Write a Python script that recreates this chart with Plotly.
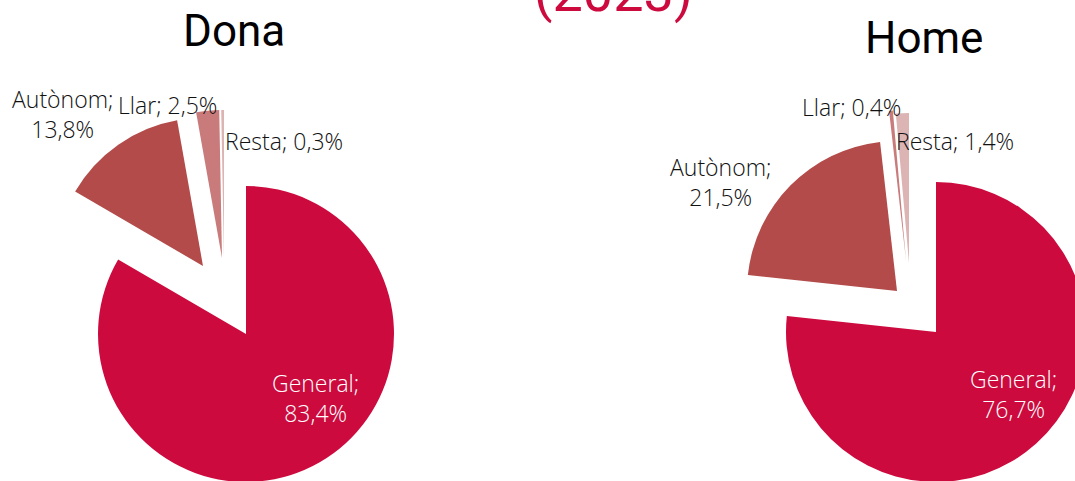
import plotly.graph_objects as go

# Data
categories = ["General", "Autònom", "Llar", "Resta"]
dona_values = [83.4, 13.8, 2.5, 0.3]
home_values = [76.7, 21.5, 0.4, 1.4]
panel_titles = ["Dona", "Home"]
year_label = "(2023)"

slice_colors = ["#CC0A3E", "#B24B49", "#C97B7B", "#DDB4B4"]

# figure a bit larger than the window so the pies get cut at the edges
W, H = 1100, 490


def px(x, y):
    return x / W, 1 - y / H


# pie centre (window px), radius (px) and exploded offset of every slice (px)
pies = [
    dict(values=dona_values, cx=246, cy=334, r=148,
         offsets=[(0, 0), (-43, -68), (-24, -76), (-22, -76)]),
    dict(values=home_values, cx=936, cy=332, r=150,
         offsets=[(0, 0), (-39, -41), (-30, -72), (-27, -69)]),
]

fig = go.Figure()

for p in pies:
    for i, cat in enumerate(categories):
        dx, dy = p["offsets"][i]
        r = p["r"]
        x0, y1 = px(p["cx"] + dx - r, p["cy"] + dy - r)
        x1, y0 = px(p["cx"] + dx + r, p["cy"] + dy + r)
        cols = [c if j == i else "rgba(0,0,0,0)" for j, c in enumerate(slice_colors)]
        fig.add_trace(go.Pie(
            labels=categories,
            values=p["values"],
            sort=False,
            direction="clockwise",
            rotation=0,
            marker=dict(colors=cols, line=dict(width=0)),
            textinfo="none",
            showlegend=False,
            domain=dict(x=[x0, x1], y=[y0, y1]),
        ))


def fmt(cat, val, br):
    sep = "<br>" if br else " "
    return f"{cat};{sep}{val:.1f}".replace(".", ",") + "%"


# label centres (window px), line break, colour
label_pos = [
    [(315, 398, True, "white"), (62, 114, True, "#111"),
     (167, 105, False, "#111"), (284, 141, False, "#111")],
    [(1013, 394, True, "white"), (720, 182, True, "#111"),
     (851, 107, False, "#111"), (955, 141, False, "#111")],
]

for p, pos in zip(pies, label_pos):
    for cat, val, (x, y, br, col) in zip(categories, p["values"], pos):
        ax, ay = px(x, y)
        fig.add_annotation(
            x=ax, y=ay, xref="paper", yref="paper",
            xanchor="center", yanchor="middle",
            text=fmt(cat, val, br), showarrow=False, align="center",
            font=dict(family="Open Sans", size=23, color=col, weight=300),
        )

for t, (x, y) in zip(panel_titles, [(234, 31), (924, 38)]):
    ax, ay = px(x, y)
    fig.add_annotation(
        x=ax, y=ay, xref="paper", yref="paper",
        xanchor="center", yanchor="middle",
        text=t, showarrow=False,
        font=dict(family="Roboto", size=44, color="#000"),
    )

ax, ay = px(613, -8)
fig.add_annotation(
    x=ax, y=ay, xref="paper", yref="paper",
    xanchor="center", yanchor="middle",
    text=year_label, showarrow=False,
    font=dict(family="Roboto", size=54, color="#CC0A3E"),
)

fig.update_layout(
    width=W, height=H,
    margin=dict(l=0, r=0, t=0, b=0),
    paper_bgcolor="white",
    plot_bgcolor="white",
)

fig.write_html(
    "out.html",
    config={"displayModeBar": False},
    post_script="document.body.style.margin='0';"
                "document.documentElement.style.overflow='hidden';",
)
